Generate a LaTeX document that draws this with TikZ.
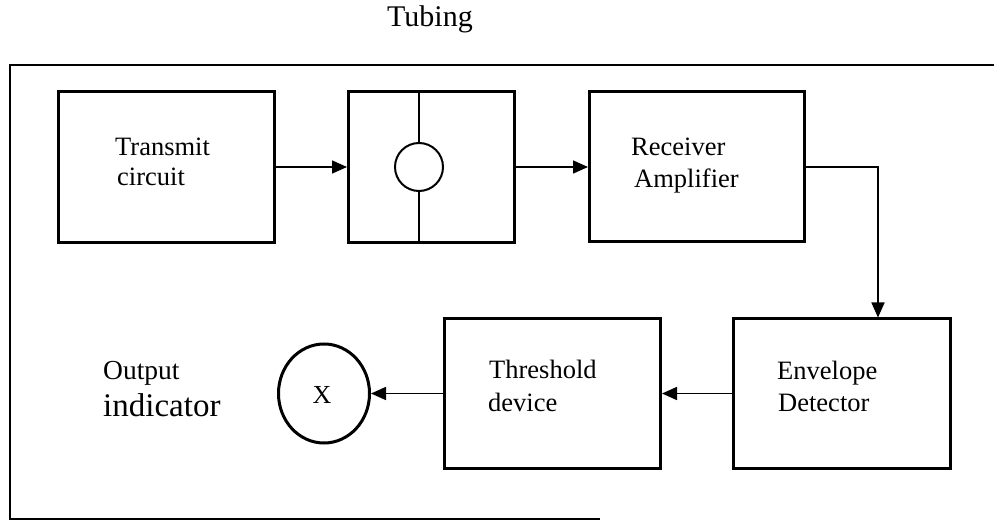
\documentclass[tikz,border=0pt]{standalone}
\usepackage{fontspec}
\setmainfont{Liberation Serif}
\usetikzlibrary{arrows.meta,shapes.geometric}
\tikzset{
  blockbox/.style={draw, line width=3pt, inner sep=0pt, minimum width=216pt, minimum height=151pt},
  arr/.style={line width=1.6pt, -{Triangle[length=15pt,width=13pt]}},
  lbl/.style={anchor=base west, inner sep=0pt, font=\fontsize{26.5}{32}\selectfont},
  frameline/.style={line width=1.6pt}
}
\begin{document}
\begin{tikzpicture}[x=1pt,y=-1pt]
\useasboundingbox (0,0) rectangle (994,521);
% frame
\coordinate (fTR) at (994,65);
\coordinate (fTL) at (10,65);
\coordinate (fBL) at (10,519);
\coordinate (fBR) at (600,519);
\draw[frameline] (fTR) -- (fTL) -- (fBL) -- (fBR);
% title
\node[anchor=base, inner sep=0pt, font=\fontsize{30}{36}\selectfont] (title) at (430,27) {Tubing};
% boxes
\node[blockbox] (b1) at (166.5,167) {};
\node[blockbox, minimum width=166pt] (b2) at (431.5,167) {};
\node[blockbox, minimum width=215pt, minimum height=150pt] (b3) at (697,167) {};
\node[blockbox, minimum height=149pt] (b4) at (552.5,393.5) {};
\node[blockbox, minimum width=217pt, minimum height=149pt] (b5) at (842,393.5) {};
% tubing cross-section
\node[draw, circle, line width=2pt, minimum size=48pt, inner sep=0pt] (c2) at (419,167) {};
\draw[line width=1.5pt] (c2 |- b2.north) -- (c2.north);
\draw[line width=1.5pt] (c2.south) -- (c2 |- b2.south);
% output indicator
\node[draw, ellipse, line width=3pt, minimum width=91pt, minimum height=99pt, inner sep=0pt] (out) at (324,393.5) {};
\node[anchor=base, inner sep=0pt, font=\fontsize{26}{31}\selectfont] (xmark) at (322,403) {X};
% labels
\node[lbl] (t1a) at (115,156) {Transmit};
\node[lbl] (t1b) at (117,186) {circuit};
\node[lbl] (t3a) at (631,156) {Receiver};
\node[lbl] (t3b) at (634,188) {Amplifier};
\node[lbl] (t4a) at (489,379) {Threshold};
\node[lbl] (t4b) at (488,412) {device};
\node[lbl] (t5a) at (777,380) {Envelope};
\node[lbl] (t5b) at (778,412) {Detector};
\node[anchor=base west, inner sep=0pt, font=\fontsize{27.5}{33}\selectfont] (o1) at (103,380) {Output};
\node[anchor=base west, inner sep=0pt, font=\fontsize{33}{40}\selectfont] (o2) at (103,417) {indicator};
% connectors
\coordinate (turn) at (878,167);
\draw[arr] (b1.east) -- (b2.west);
\draw[arr] (b2.east) -- (b3.west);
\draw[arr] (b3.east) -- (turn) -- (turn |- b5.north);
\draw[arr] (b5.west) -- (b4.east);
\draw[arr] (b4.west) -- (out.east);
\end{tikzpicture}
\end{document}
